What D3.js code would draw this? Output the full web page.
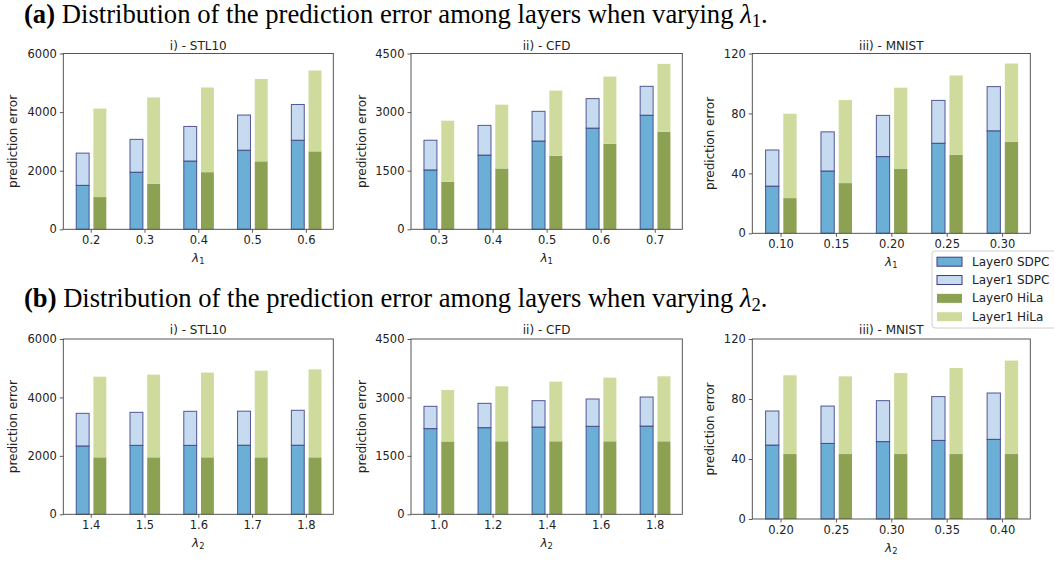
<!DOCTYPE html>
<html><head><meta charset="utf-8">
<script src="https://cdn.jsdelivr.net/npm/d3@7"></script>
<style>body{margin:0;background:#fff}svg{display:block}</style>
</head><body>
<svg id="c" width="1054" height="561"></svg>
<script>
// ---------- DATA ----------
const seriesNames = ["Layer0 SDPC", "Layer1 SDPC", "Layer0 HiLa", "Layer1 HiLa"];

// (a) varying lambda1
const a1Cats = ["0.2","0.3","0.4","0.5","0.6"];           // STL10
const a1SdpcL0 = [1500,1950,2330,2700,3040];
const a1SdpcL1 = [1100,1120,1180,1200,1220];
const a1HilaL0 = [1100,1550,1950,2320,2660];
const a1HilaL1 = [3020,2950,2890,2810,2760];
const a1Ticks = [0,2000,4000,6000];

const a2Cats = ["0.3","0.4","0.5","0.6","0.7"];           // CFD
const a2SdpcL0 = [1520,1900,2260,2590,2920];
const a2SdpcL1 = [760,760,760,755,740];
const a2HilaL0 = [1215,1557,1882,2190,2498];
const a2HilaL1 = [1565,1633,1668,1720,1737];
const a2Ticks = [0,1500,3000,4500];

const a3Cats = ["0.10","0.15","0.20","0.25","0.30"];      // MNIST
const a3SdpcL0 = [31.5,41.6,51.2,60.1,68.4];
const a3SdpcL1 = [24.1,26.1,27.5,28.6,29.5];
const a3HilaL0 = [23.5,33.5,42.9,52.3,61.0];
const a3HilaL1 = [56.3,55.4,54.3,53.0,52.3];
const a3Ticks = [0,40,80,120];

// (b) varying lambda2
const b1Cats = ["1.4","1.5","1.6","1.7","1.8"];           // STL10
const b1SdpcL0 = [2340,2360,2360,2365,2365];
const b1SdpcL1 = [1116,1130,1165,1165,1195];
const b1HilaL0 = [1950,1950,1950,1950,1950];
const b1HilaL1 = [2760,2830,2900,2965,3010];
const b1Ticks = [0,2000,4000,6000];

const b2Cats = ["1.0","1.2","1.4","1.6","1.8"];           // CFD
const b2SdpcL0 = [2200,2224,2241,2259,2265];
const b2SdpcL1 = [572,625,676,701,746];
const b2HilaL0 = [1870,1874,1874,1874,1874];
const b2HilaL1 = [1321,1411,1531,1634,1668];
const b2Ticks = [0,1500,3000,4500];

const b3Cats = ["0.20","0.25","0.30","0.35","0.40"];      // MNIST
const b3SdpcL0 = [49.3,50.4,51.6,52.4,53.1];
const b3SdpcL1 = [22.7,24.9,27.3,29.2,30.9];
const b3HilaL0 = [43.3,43.3,43.3,43.3,43.3];
const b3HilaL1 = [52.5,51.8,54.0,57.4,62.3];
const b3Ticks = [0,40,80,120];

const panelTitles = ["i) - STL10", "ii) - CFD", "iii) - MNIST"];
const headerA = "Distribution of the prediction error among layers when varying ";
const headerB = "Distribution of the prediction error among layers when varying ";

// ---------- STYLE / LAYOUT ----------
const colors = ["#6baed6", "#c6dbef", "#8ca252", "#cedb9c"];
const edge = "#3b3d80";
const sans = "DejaVu Sans, sans-serif";
const serif = "Liberation Serif, Times New Roman, serif";

const cols = [[63.3,333.3],[411,682.3],[752.3,1030.3]];
const rows = [
  {top:53.5, bottom:[229.3,229.3,233.3], titleY:49.5, sub:"1", header:headerA, label:"(a)", headY:23},
  {top:339,  bottom:[514.3,514.3,519],   titleY:334, sub:"2", header:headerB, label:"(b)", headY:307}
];
const ylabX = [13, 361.7, 710];

const panels = [
  [a1Cats,a1SdpcL0,a1SdpcL1,a1HilaL0,a1HilaL1,a1Ticks],
  [a2Cats,a2SdpcL0,a2SdpcL1,a2HilaL0,a2HilaL1,a2Ticks],
  [a3Cats,a3SdpcL0,a3SdpcL1,a3HilaL0,a3HilaL1,a3Ticks],
  [b1Cats,b1SdpcL0,b1SdpcL1,b1HilaL0,b1HilaL1,b1Ticks],
  [b2Cats,b2SdpcL0,b2SdpcL1,b2HilaL0,b2HilaL1,b2Ticks],
  [b3Cats,b3SdpcL0,b3SdpcL1,b3HilaL0,b3HilaL1,b3Ticks]
];

const svg = d3.select("#c");

// headers
rows.forEach(r => {
  const t = svg.append("text").attr("x", 24).attr("y", r.headY)
    .attr("font-family", serif).attr("font-size", 22).attr("fill", "#000");
  t.append("tspan").attr("font-weight", "bold").text(r.label);
  t.append("tspan").text(" " + r.header);
  t.append("tspan").attr("font-style", "italic").text("λ");
  t.append("tspan").attr("font-size", "0.7em").attr("dy", 4).text(r.sub);
  t.append("tspan").attr("dy", -4).text(".");
  const len = t.node().getComputedTextLength();
  t.attr("font-size", 22 * 744 / len);
});

panels.forEach((p, idx) => {
  const [cats, s0, s1, h0, h1, ticks] = p;
  const ri = Math.floor(idx / 3), ci = idx % 3;
  const row = rows[ri];
  const [x0, x1] = cols[ci];
  const top = row.top, bottom = row.bottom[ci];
  const g = svg.append("g");
  const x = d3.scaleLinear().domain([-0.51, 4.51]).range([x0, x1]);
  const y = d3.scaleLinear().domain([ticks[0], ticks[ticks.length-1]]).range([bottom, top]);
  const idxs = d3.range(cats.length);
  const bw = 0.24;

  // SDPC bars
  const sd = idxs.map(i => ({i, l0:s0[i], l1:s1[i]}));
  g.selectAll(".s0").data(sd).join("rect")
    .attr("x", d => x(d.i - 0.27)).attr("width", x(bw) - x(0))
    .attr("y", d => y(d.l0)).attr("height", d => y(0) - y(d.l0))
    .attr("fill", colors[0]).attr("stroke", edge).attr("stroke-width", 1).attr("stroke-opacity", 0.85);
  g.selectAll(".s1").data(sd).join("rect")
    .attr("x", d => x(d.i - 0.27)).attr("width", x(bw) - x(0))
    .attr("y", d => y(d.l0 + d.l1)).attr("height", d => y(d.l0) - y(d.l0 + d.l1))
    .attr("fill", colors[1]).attr("stroke", edge).attr("stroke-width", 1).attr("stroke-opacity", 0.85);
  // HiLa bars
  const hd = idxs.map(i => ({i, l0:h0[i], l1:h1[i]}));
  g.selectAll(".h0").data(hd).join("rect")
    .attr("x", d => x(d.i + 0.05)).attr("width", x(bw) - x(0))
    .attr("y", d => y(d.l0)).attr("height", d => y(0) - y(d.l0))
    .attr("fill", colors[2]);
  g.selectAll(".h1").data(hd).join("rect")
    .attr("x", d => x(d.i + 0.05)).attr("width", x(bw) - x(0))
    .attr("y", d => y(d.l0 + d.l1)).attr("height", d => y(d.l0) - y(d.l0 + d.l1))
    .attr("fill", colors[3]);

  // axes
  const ax = g.append("g").attr("transform", `translate(0,${bottom})`)
    .call(d3.axisBottom(x).tickValues(idxs).tickFormat(i => cats[i]).tickSize(3.5).tickPadding(3));
  const ay = g.append("g").attr("transform", `translate(${x0},0)`)
    .call(d3.axisLeft(y).tickValues(ticks).tickFormat(d3.format("d")).tickSize(3.5).tickPadding(3));
  [ax, ay].forEach(a => {
    a.attr("font-size", null).attr("font-family", null);
    a.select(".domain").remove();
    a.selectAll("line").attr("stroke", "#333").attr("stroke-width", 0.8);
    a.selectAll("text").attr("font-family", sans).attr("font-size", 11.5).attr("fill", "#222");
  });
  // spines
  g.append("rect").attr("x", x0).attr("y", top).attr("width", x1 - x0).attr("height", bottom - top)
    .attr("fill", "none").attr("stroke", "#444").attr("stroke-width", 0.9);

  // title
  g.append("text").attr("x", (x0 + x1) / 2).attr("y", row.titleY).attr("text-anchor", "middle")
    .attr("font-family", sans).attr("font-size", 12).attr("fill", "#222").text(panelTitles[ci]);
  // y label
  g.append("text").attr("transform", `translate(${ylabX[ci]},${(top + bottom) / 2}) rotate(-90)`)
    .attr("text-anchor", "middle").attr("dominant-baseline", "central")
    .attr("font-family", sans).attr("font-size", 12).attr("fill", "#222").text("prediction error");
  // x label
  const xl = g.append("text").attr("x", (x0 + x1) / 2).attr("y", bottom + 33).attr("text-anchor", "middle")
    .attr("font-family", sans).attr("font-size", 12).attr("fill", "#222");
  xl.append("tspan").attr("font-style", "italic").text("λ");
  xl.append("tspan").attr("font-size", "0.7em").attr("dy", 2).text(row.sub);
});

// legend
const lg = svg.append("g");
lg.append("rect").attr("x", 932).attr("y", 251).attr("width", 130).attr("height", 77).attr("rx", 3)
  .attr("fill", "#fff").attr("fill-opacity", 0.85).attr("stroke", "#d0d0d0").attr("stroke-width", 1);
const ly = d3.scalePoint().domain(seriesNames).range([261.7, 316.7]);
seriesNames.forEach((n, i) => {
  const r = lg.append("rect").attr("x", 937).attr("y", ly(n) - 4.5).attr("width", 25).attr("height", 9)
    .attr("fill", colors[i]);
  if (i < 2) r.attr("stroke", edge).attr("stroke-width", 1);
  lg.append("text").attr("x", 972).attr("y", ly(n)).attr("dominant-baseline", "central")
    .attr("font-family", sans).attr("font-size", 12).attr("fill", "#222").text(n);
});
</script>
</body></html>
